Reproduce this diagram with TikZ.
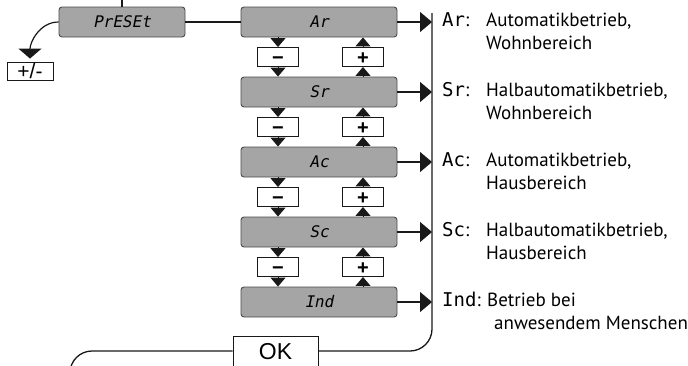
\documentclass[tikz,border=0pt]{standalone}
\usepackage{fontspec}
\setmainfont{PT Sans}
\newfontfamily\lcdfont[FakeSlant=0.2]{DejaVu Sans Mono}
\newfontfamily\lcdupfont{DejaVu Sans Mono}
\newfontfamily\keyfont{Liberation Sans}
\usepackage{tikz}
\usetikzlibrary{arrows.meta,positioning}
\usepackage{xcolor}
\definecolor{lcdgray}{RGB}{165,165,165}
\definecolor{lcdedge}{RGB}{75,75,75}
\definecolor{wire}{RGB}{25,25,25}
\tikzstyle{mode} = [rectangle, rounded corners=3pt, minimum width=156pt, minimum height=30pt, inner sep=0pt, draw=lcdedge, fill=lcdgray, line width=0.9pt, font=\lcdfont\fontsize{16}{16}\selectfont]
\tikzstyle{key} = [rectangle, minimum width=41pt, minimum height=19pt, inner sep=0pt, text height=14pt, text depth=0pt, draw=wire, fill=white, line width=0.9pt, font=\keyfont\bfseries\fontsize{20}{20}\selectfont]
\tikzstyle{arrow} = [line width=1pt, color=wire, -{Triangle[width=15pt,length=9pt]}]
\tikzstyle{bigarrow} = [line width=1.3pt, color=wire, -{Triangle[width=20pt,length=12pt]}]
\tikzstyle{info} = [anchor=base west, inner sep=0pt, align=left, font=\fontsize{19}{23}\selectfont]
\newcommand{\lcdtag}[2][44pt]{\makebox[#1][l]{{\lcdupfont\fontsize{19}{19}\selectfont #2}:}}

\begin{document}
\begin{tikzpicture}[x=1pt, y=-1pt, node distance=70pt]
\clip (0,0) rectangle (688,365);
% Display modes
\node (preset) [mode, minimum width=126pt] at (122,22) {PrESEt};
\node (ar) [mode] at (319,22) {Ar};
\node (sr) [mode, below of=ar] {Sr};
\node (ac) [mode, below of=sr] {Ac};
\node (sc) [mode, below of=ac] {Sc};
\node (ind) [mode, below of=sc] {Ind};
\node (pm) [key, minimum width=46pt, minimum height=18pt, text height=15pt, font=\keyfont\fontsize{21}{21}\selectfont] at (30,71) {+/-};
\node (ok) [key, minimum width=85pt, minimum height=30pt, text height=16pt, font=\keyfont\fontsize{23}{23}\selectfont] at (275.5,351) {OK};
\coordinate (top) at (122,-5);
\coordinate (bus) at (432,13);
\coordinate (back) at (70,390);

% Keys between the modes
\node (minus1) [key, below of=ar, node distance=35pt, xshift=-41pt] {−};
\node (plus1) [key, below of=ar, node distance=35pt, xshift=44pt] {+};
\node (minus2) [key, below of=sr, node distance=35pt, xshift=-41pt] {−};
\node (plus2) [key, below of=sr, node distance=35pt, xshift=44pt] {+};
\node (minus3) [key, below of=ac, node distance=35pt, xshift=-41pt] {−};
\node (plus3) [key, below of=ac, node distance=35pt, xshift=44pt] {+};
\node (minus4) [key, below of=sc, node distance=35pt, xshift=-41pt] {−};
\node (plus4) [key, below of=sc, node distance=35pt, xshift=44pt] {+};

% Arrows
\draw[line width=1.2pt, color=wire] (preset.north) -- (top);
\draw[line width=1.2pt, color=wire] (preset) -- (ar);
\draw[line width=1.2pt, color=wire, shorten >=3pt, -{Triangle[width=23pt,length=10pt]}] (preset.west) to[out=180, in=90] (pm.north);
\foreach \up/\dn/\k in {ar/sr/1, sr/ac/2, ac/sc/3, sc/ind/4} {
  \draw[arrow] (minus\k.north |- \up.south) -- (minus\k.north);
  \draw[arrow] (minus\k.south) -- (minus\k.south |- \dn.north);
  \draw[arrow] (plus\k.south |- \dn.north) -- (plus\k.south);
  \draw[arrow] (plus\k.north) -- (plus\k.north |- \up.south);
}
\foreach \m in {ar, sr, ac, sc, ind}
  \draw[bigarrow] (\m.east) -- (\m.east -| bus);
\draw[line width=1.3pt, color=wire, rounded corners=22pt] (bus) |- (ok.east);
\draw[line width=1.3pt, color=wire, rounded corners=22pt] (ok.west) -| (back);

% Labels on the right
\node (arinfo) [info] at (442,49) {\lcdtag{Ar}Automatikbetrieb,\\\hspace*{44pt}Wohnbereich};
\node (srinfo) [info] at (442,119) {\lcdtag{Sr}Halbautomatikbetrieb,\\\hspace*{44pt}Wohnbereich};
\node (acinfo) [info] at (442,189) {\lcdtag{Ac}Automatikbetrieb,\\\hspace*{44pt}Hausbereich};
\node (scinfo) [info] at (442,259) {\lcdtag{Sc}Halbautomatikbetrieb,\\\hspace*{44pt}Hausbereich};
\node (indinfo) [info] at (442,329) {\lcdtag[45pt]{Ind}Betrieb bei\\\hspace*{52pt}anwesendem Menschen};
\end{tikzpicture}
\end{document}
